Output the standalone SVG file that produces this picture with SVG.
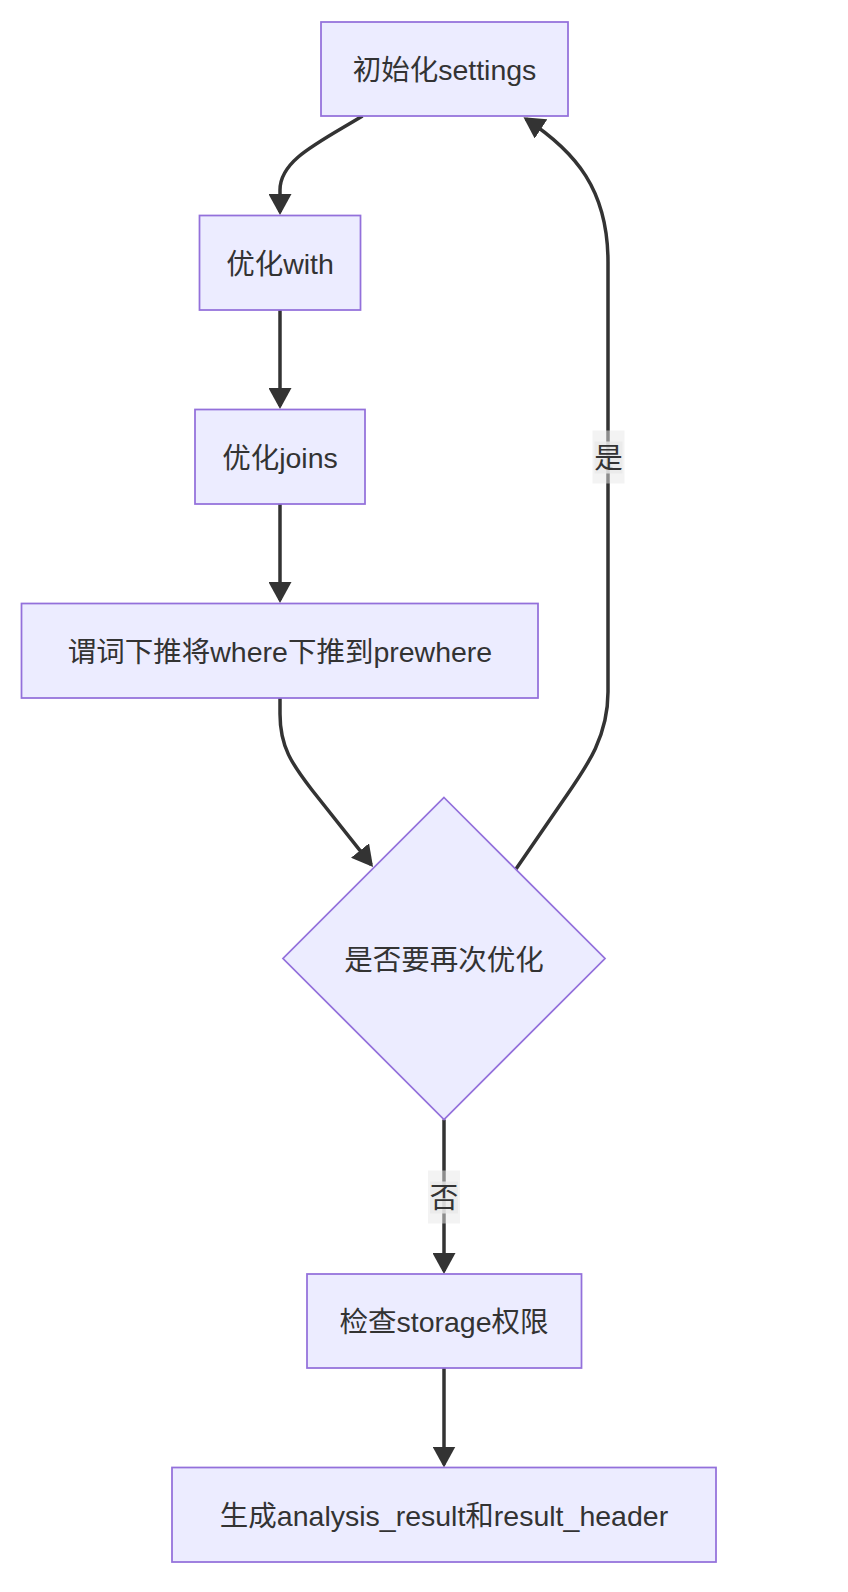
<svg xmlns="http://www.w3.org/2000/svg" width="848" height="1592" viewBox="0 0 848 1592">
<style>
.node rect, .node polygon { fill: #ECECFF; stroke: #9370DB; stroke-width: 1.75; }
.node text, .elabel text { font-family: "Liberation Sans", "Noto Sans CJK SC", sans-serif; font-size: 28.5px; fill: #333333; text-anchor: middle; dominant-baseline: central; }
.edge { fill: none; stroke: #333333; stroke-width: 3.5; marker-end: url(#arrow); }
.lbl-outer { fill: rgba(232,232,232,0.5); }
.lbl-inner { fill: #e8e8e8; opacity: 0.8; }
</style>
<defs>
<marker id="arrow" viewBox="0 0 21 23" refX="18" refY="11.5" markerWidth="21" markerHeight="23" markerUnits="userSpaceOnUse" orient="auto">
<path d="M0,0 L21,11.5 L0,23 z" fill="#333333"/>
</marker>
</defs>
<rect width="848" height="1592" fill="#ffffff"/>
<g id="connectors">
<path class="edge" d="M362.5,116 C318,143 280,160 280,190 L280,212"/>
<path class="edge" d="M280,310 L280,406"/>
<path class="edge" d="M280,504 L280,600"/>
<path class="edge" d="M280,698 L280,714 C280,747 292,764 312,790 L371.2,864.6"/>
<path class="edge" d="M516,869 L560,805 C584,770 608,740 608,692 L608,262 C608,190 576,152 526,119"/>
<path class="edge" d="M444,1119.5 L444,1271"/>
<path class="edge" d="M444,1368 L444,1464.5"/>
</g>
<g id="label-yes" class="elabel">
<rect class="lbl-outer" x="592.5" y="430.5" width="32" height="53"/>
<rect class="lbl-inner" x="594.5" y="441.5" width="28" height="32"/>
<text x="608.5" y="457.5">是</text>
</g>
<g id="label-no" class="elabel">
<rect class="lbl-outer" x="428" y="1170.5" width="32" height="53"/>
<rect class="lbl-inner" x="430" y="1181.5" width="28" height="32"/>
<text x="444" y="1197.5">否</text>
</g>
<g id="n1" class="node">
<rect x="321" y="22" width="247" height="94"/>
<text x="444.5" y="70">初始化settings</text>
</g>
<g id="n2" class="node">
<rect x="199.5" y="215.5" width="161" height="94.5"/>
<text x="280" y="263.5">优化with</text>
</g>
<g id="n3" class="node">
<rect x="195" y="409.5" width="170" height="94.5"/>
<text x="280" y="457.5">优化joins</text>
</g>
<g id="n4" class="node">
<rect x="21.5" y="603.5" width="516.5" height="94.5"/>
<text x="280" y="651.5">谓词下推将where下推到prewhere</text>
</g>
<g id="n5" class="node">
<polygon points="444,797.5 605,958.5 444,1119.5 283,958.5"/>
<text x="444" y="959.5">是否要再次优化</text>
</g>
<g id="n6" class="node">
<rect x="307" y="1274" width="274.5" height="94"/>
<text x="444" y="1322">检查storage权限</text>
</g>
<g id="n7" class="node">
<rect x="172" y="1467.5" width="544" height="94.5"/>
<text x="444" y="1515.5">生成analysis_result和result_header</text>
</g>
</svg>
